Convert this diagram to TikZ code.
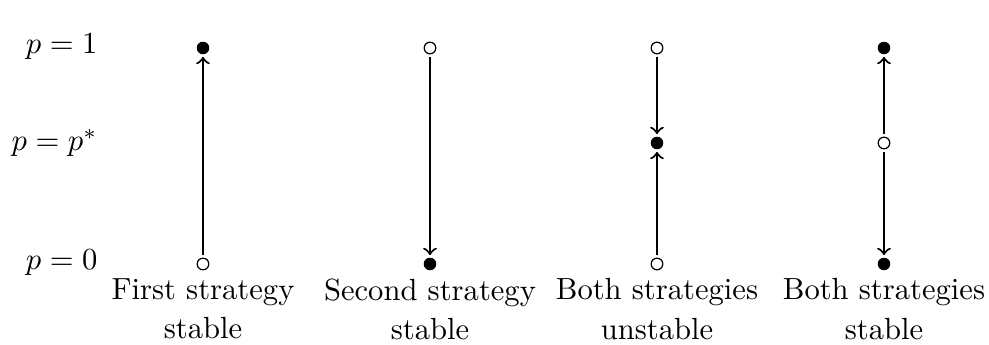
\documentclass[tikz,border=0pt]{standalone}
\usetikzlibrary{arrows}
\begin{document}
\begin{tikzpicture}[x=0.3268pt,y=-0.3268pt,
  full/.style={circle,fill=black,draw=black,line width=0.3pt,minimum size=3.8pt,inner sep=0pt,outer sep=1pt},
  hollow/.style={circle,fill=white,draw=black,line width=0.4pt,minimum size=3.8pt,inner sep=0pt,outer sep=1pt},
  flow/.style={line width=0.7pt,-to},
  ylab/.style={anchor=east,inner sep=0pt},
  clab/.style={anchor=north,align=center,inner sep=0pt}]
\useasboundingbox (0,0) rectangle (989,345);
% axis labels
\node[ylab] (l1) at (98,47) {$p=1$};
\node[ylab] (ls) at (98,143) {$p=p^{*}$};
\node[ylab] (l0) at (98,263) {$p=0$};
% column 1
\node[full] (a1) at (203,48) {};
\node[hollow] (a0) at (203,264) {};
\draw[flow] (a0) -- (a1);
% column 2
\node[hollow] (b1) at (430,48) {};
\node[full] (b0) at (430,264) {};
\draw[flow] (b1) -- (b0);
% column 3
\node[hollow] (c1) at (657,48) {};
\node[full] (cs) at (657,143) {};
\node[hollow] (c0) at (657,264) {};
\draw[flow] (c1) -- (cs);
\draw[flow] (c0) -- (cs);
% column 4
\node[full] (d1) at (884,48) {};
\node[hollow] (ds) at (884,143) {};
\node[full] (d0) at (884,264) {};
\draw[flow] (ds) -- (d1);
\draw[flow] (ds) -- (d0);
% captions
\node[clab] (t1) at (203,278) {First strategy\\[0.9pt]stable};
\node[clab] (t2) at (430,278) {Second strategy\\[0.9pt]stable};
\node[clab] (t3) at (657,278) {Both strategies\\[0.9pt]unstable};
\node[clab] (t4) at (884,278) {Both strategies\\[0.9pt]stable};
\end{tikzpicture}
\end{document}
